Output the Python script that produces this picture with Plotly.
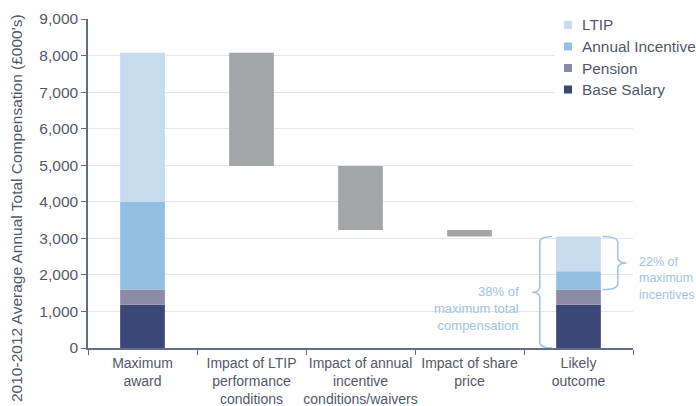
import plotly.graph_objects as go

# Categories along the x axis (line breaks as drawn)
categories = [
    "Maximum<br>award",
    "Impact of LTIP<br>performance<br>conditions",
    "Impact of annual<br>incentive<br>conditions/waivers",
    "Impact of share<br>price",
    "Likely<br>outcome",
]

# Compensation components (£000's), stacked from the bottom up
components = ["Base Salary", "Pension", "Annual Incentive", "LTIP"]
maximum_award = [1180, 420, 2400, 4080]
likely_outcome = [1180, 420, 500, 950]

# Reductions from the maximum award to the likely outcome
impact_values = [3100, 1750, 180]

colors = {
    "LTIP": "#c6dbee",
    "Annual Incentive": "#93bfe2",
    "Pension": "#8b8ba8",
    "Base Salary": "#3a4777",
}
impact_color = "#a3a5a8"
text_color = "#525869"
note_color = "#9fc2e3"
axis_color = "#646b8a"

BAR_W = 0.41
fig = go.Figure()

# Stacked component bars for the first and last columns
for col, vals in ((categories[0], maximum_award), (categories[4], likely_outcome)):
    base = 0
    for name, v in zip(components, vals):
        fig.add_trace(go.Bar(
            x=[col], y=[v], base=[base], width=BAR_W,
            marker=dict(color=colors[name], line=dict(width=0)),
            name=name, showlegend=False, hoverinfo="y+name",
        ))
        base += v

# Floating bars for each reduction
level = sum(maximum_award)
for col, d in zip(categories[1:4], impact_values):
    fig.add_trace(go.Bar(
        x=[col], y=[d], base=[level - d], width=BAR_W,
        marker=dict(color=impact_color, line=dict(width=0)),
        showlegend=False, hoverinfo="y",
    ))
    level -= d

# Plot area in pixels: x 88..633, y 19..348
X0, PW = 88.0, 545.0
Y0, PH = 348.0, 329.0

def px(x):
    return (x - X0) / PW

def py(y):
    return (Y0 - y) / PH

# Manual legend, drawn over a white patch that hides the gridlines
shapes = [dict(type="rect", xref="paper", yref="paper",
               x0=px(555), x1=1.2, y0=py(102), y1=1.03,
               fillcolor="white", line=dict(width=0), layer="above")]
annotations = []
legend_rows = ["LTIP", "Annual Incentive", "Pension", "Base Salary"]
for i, name in enumerate(legend_rows):
    yc = 25 + 21.5 * i
    shapes.append(dict(type="rect", xref="paper", yref="paper",
                       x0=px(564), x1=px(572), y0=py(yc + 4), y1=py(yc - 4),
                       fillcolor=colors[name], line=dict(width=0), layer="above"))
    annotations.append(dict(xref="paper", yref="paper",
                            x=px(580), y=py(yc), xanchor="left", yanchor="middle",
                            text=name, showarrow=False,
                            font=dict(size=15.4, color=text_color)))

# Curly braces beside the likely outcome bar
def brace(xe, xs, xt, y0, y1, r):
    ym = (y0 + y1) / 2
    return (f"M {xe},{y1} Q {xs},{y1} {xs},{y1 - r} L {xs},{ym + r} "
            f"Q {xs},{ym} {xt},{ym} Q {xs},{ym} {xs},{ym - r} "
            f"L {xs},{y0 + r} Q {xs},{y0} {xe},{y0}")

total_likely = sum(likely_outcome)
fixed_likely = likely_outcome[0] + likely_outcome[1]
shapes.append(dict(type="path", xref="x", yref="y",
                   path=brace(3.76, 3.645, 3.575, 0, total_likely, 160),
                   line=dict(color=note_color, width=1.5), layer="above"))
shapes.append(dict(type="path", xref="x", yref="y",
                   path=brace(4.22, 4.36, 4.44, fixed_likely, total_likely, 160),
                   line=dict(color=note_color, width=1.5), layer="above"))

pct_total = round(100 * total_likely / sum(maximum_award))
pct_incent = round(100 * (total_likely - fixed_likely) / (sum(maximum_award) - fixed_likely))
annotations.append(dict(xref="x", yref="y", x=3.47, y=1090,
                        xanchor="right", yanchor="middle", align="right",
                        text=f"{pct_total}% of<br>maximum total<br>compensation",
                        showarrow=False, font=dict(size=13, color=note_color)))
annotations.append(dict(xref="paper", yref="paper", x=px(637), y=py(278),
                        xanchor="left", yanchor="middle", align="left",
                        text=f"{pct_incent}% of<br>maximum<br>incentives",
                        showarrow=False, font=dict(size=12.5, color=note_color)))

# Y axis title
annotations.append(dict(xref="paper", yref="paper", x=px(16), y=py(208),
                        xanchor="center", yanchor="middle", textangle=-90,
                        text="2010-2012 Average Annual Total Compensation (£000's)",
                        showarrow=False, font=dict(size=15.5, color=text_color)))

fig.update_layout(
    width=696, height=406,
    margin=dict(l=88, r=63, t=19, b=58, autoexpand=False),
    paper_bgcolor="white", plot_bgcolor="white",
    barmode="overlay",
    font=dict(family="Liberation Sans, Arial, sans-serif", color=text_color),
    shapes=shapes, annotations=annotations,
    showlegend=False,
)
fig.update_xaxes(
    type="category", categoryorder="array", categoryarray=categories,
    range=[-0.5, 4.5], tickson="boundaries", tickangle=0, automargin=False,
    ticks="outside", ticklen=5, tickcolor=axis_color, ticklabelstandoff=1,
    showline=True, linecolor=axis_color, linewidth=1.5,
    showgrid=False, tickfont=dict(size=14, color=text_color),
)
fig.update_yaxes(
    range=[0, 9000], dtick=1000, tickformat=",", automargin=False,
    ticks="outside", ticklen=5, tickcolor=axis_color,
    showline=True, linecolor=axis_color, linewidth=1.5,
    showgrid=True, gridcolor="#e6e6ea", gridwidth=1,
    zeroline=False, tickfont=dict(size=15.5, color=text_color),
)

fig.write_html("out.html")
